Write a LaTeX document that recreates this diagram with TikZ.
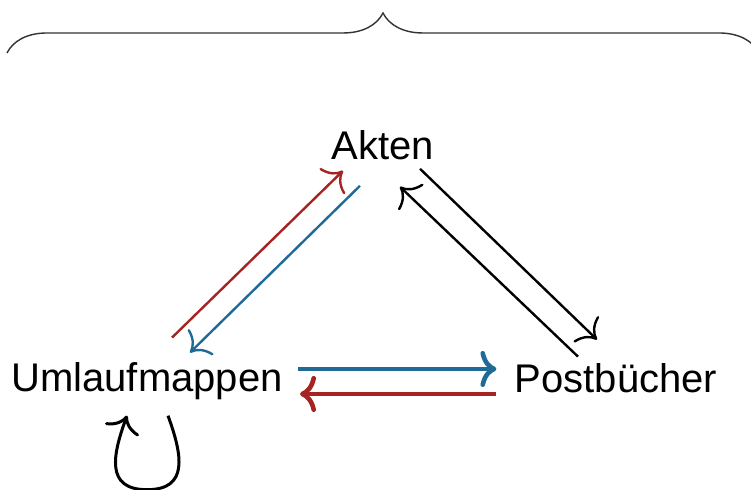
\documentclass[tikz,border=0pt]{standalone}
\usepackage{fontspec}
\setmainfont{Liberation Sans}
\usetikzlibrary{arrows.meta,calc,positioning,decorations.pathreplacing}
\definecolor{flussrot}{RGB}{165,36,34}
\definecolor{flussblau}{RGB}{31,106,150}

\begin{document}
\begin{tikzpicture}[x=.5pt,y=.5pt,
    every node/.style={font=\fontsize{20}{24}\selectfont, inner sep=0pt, anchor=base},
    fluss/.style={line width=1.2pt, -{Computer Modern Rightarrow[length=8pt,width=18pt]}},
    dick/.style={fluss, line width=2.3pt}]
  \clip (0,0) rectangle (751,490);
  \draw[black!80,line width=.7pt,decorate,decoration={brace,amplitude=20pt}]
    (7,437) -- (759,437);
  \node (akten) at (383,330) {Akten};
  \node (uml) at (147,98) {Umlaufmappen};
  \node (post) at (616,97) {Postbücher};
  % links: Umlaufmappen <-> Akten
  \draw[fluss,flussrot] ($(uml.north)+(25,25)$) -- ($(akten.south)+(-40,-10)$);
  \draw[fluss,flussblau] ($(akten.south)+(-23,-25)$) -- ($(uml.north)+(43,10)$);
  % rechts: Akten <-> Postbücher
  \draw[fluss] ($(akten.south)+(37,-8)$) -- ($(post.north)+(-19,24)$);
  \draw[fluss] ($(post.north)+(-38,7)$) -- ($(akten.south)+(17,-26)$);
  % unten
  \draw[dick,flussblau] ($(uml.base east)+(15,23)$) -- ($(post.base west)+(-18,24)$);
  \draw[dick,flussrot] ($(post.base west)+(-18,-1)$) -- ($(uml.base east)+(17,-2)$);
  % Schleife
  \coordinate (schleife) at ($(uml.south)+(0,-89)$);
  \draw[fluss,line width=1.5pt] ($(uml.south)+(21,-15)$) to[out=-70,in=0,looseness=1.4] (schleife)
    to[out=180,in=-110,looseness=1.4] ($(uml.south)+(-20,-15)$);
\end{tikzpicture}
\end{document}
